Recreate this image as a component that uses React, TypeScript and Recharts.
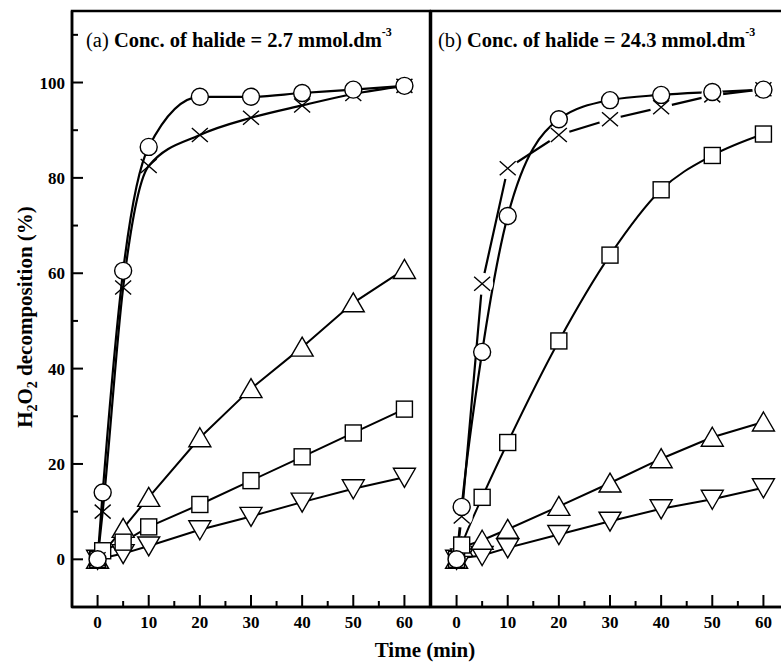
import React from "react";
import { LineChart, Line, XAxis, YAxis, ReferenceArea } from "recharts";

// time points (min)
const timesFull = [0, 1, 5, 10, 20, 30, 40, 50, 60];
const timesTri = [0, 5, 10, 20, 30, 40, 50, 60];

// panel (a): halide 2.7 mmol.dm-3
const circleA = [0, 14, 60.5, 86.5, 97, 97, 97.8, 98.5, 99.3];
const crossA = [0, 10, 57, 82.5, 89, 92.6, 95.2, 97.6, 99.3];
const squareA = [0, 1.8, 3.6, 6.8, 11.5, 16.5, 21.5, 26.5, 31.5];
const triUpA = [0, 6.5, 13, 25.5, 35.8, 44.5, 53.8, 60.8];
const triDownA = [0, 1.2, 2.8, 6.2, 9, 12, 14.8, 17.2];

// panel (b): halide 24.3 mmol.dm-3
const circleB = [0, 11, 43.5, 72, 92.3, 96.3, 97.4, 98, 98.5];
const crossB = [0, 9, 57.8, 82, 89, 92.3, 94.8, 97.3, 98.6];
const squareB = [0, 3, 13, 24.5, 45.8, 63.8, 77.5, 84.7, 89.2];
const triUpB = [0, 2.5, 4, 6.3, 11.1, 16, 21.1, 25.6, 28.8];
const triDownB = [0, 0.3, 0.8, 2.4, 5.2, 8, 10.6, 12.6, 15];

const xTicks = [0, 5, 10, 15, 20, 25, 30, 35, 40, 45, 50, 55, 60];
const yTicks = [-10, 0, 10, 20, 30, 40, 50, 60, 70, 80, 90, 100, 110];

const FONT = "'Liberation Serif', 'DejaVu Serif', serif";

const pts = (times: number[], vals: number[]) => times.map((t, i) => ({ t, v: vals[i] }));

const circleDot = (p: any) => (
  <circle key={`c${p.index}`} cx={p.cx} cy={p.cy} r={8.5} fill="#fff" stroke="#000" strokeWidth={1.4} />
);
const squareDot = (p: any) => (
  <rect key={`s${p.index}`} x={p.cx - 8} y={p.cy - 8} width={16} height={16} fill="#fff" stroke="#000" strokeWidth={1.4} />
);
const triUpDot = (p: any) => (
  <path
    key={`u${p.index}`}
    d={`M${p.cx},${p.cy - 10}L${p.cx + 11},${p.cy + 9}L${p.cx - 11},${p.cy + 9}Z`}
    fill="#fff"
    stroke="#000"
    strokeWidth={1.4}
  />
);
const triDownDot = (p: any) => (
  <path
    key={`d${p.index}`}
    d={`M${p.cx},${p.cy + 10}L${p.cx + 11},${p.cy - 9}L${p.cx - 11},${p.cy - 9}Z`}
    fill="#fff"
    stroke="#000"
    strokeWidth={1.4}
  />
);
const crossDot = (mask: boolean) => (p: any) => (
  <g key={`x${p.index}`}>
    {mask && <circle cx={p.cx} cy={p.cy} r={11} fill="#fff" />}
    <path
      d={`M${p.cx - 8},${p.cy - 7}L${p.cx + 8},${p.cy + 7}M${p.cx - 8},${p.cy + 7}L${p.cx + 8},${p.cy - 7}`}
      stroke="#000"
      strokeWidth={1.4}
      fill="none"
    />
  </g>
);

const XTick = (props: any) => {
  const { x, y, payload } = props;
  const major = payload.value % 10 === 0;
  return (
    <g>
      <line x1={x} x2={x} y1={y} y2={y - (major ? 12 : 6)} stroke="#000" strokeWidth={2} />
      {major && (
        <text x={x} y={y + 21} textAnchor="middle" fontFamily={FONT} fontWeight="bold" fontSize={17} fill="#000">
          {payload.value}
        </text>
      )}
    </g>
  );
};

const YTick = (props: any) => {
  const { x, y, payload } = props;
  const major = payload.value % 20 === 0;
  return (
    <g>
      <line x1={x} x2={x + (major ? 11 : 6)} y1={y} y2={y} stroke="#000" strokeWidth={2} />
      {major && (
        <text x={x - 7} y={y + 6} textAnchor="end" fontFamily={FONT} fontWeight="bold" fontSize={17} fill="#000">
          {payload.value}
        </text>
      )}
    </g>
  );
};

function Panel({ series, showY, width, marginLeft }: { series: any[]; showY: boolean; width: number; marginLeft: number }) {
  return (
    <LineChart width={width} height={662} margin={{ top: 11, right: 1, bottom: 0, left: marginLeft }}>
      <XAxis
        dataKey="t"
        type="number"
        domain={[-5, 65]}
        ticks={xTicks}
        interval={0}
        height={55}
        tickSize={0}
        tickMargin={0}
        tick={<XTick />}
        axisLine={{ stroke: "#000", strokeWidth: 2.5 }}
        allowDataOverflow
      />
      {showY ? (
        <YAxis
          type="number"
          domain={[-10, 115]}
          ticks={yTicks}
          interval={0}
          width={72}
          tickSize={0}
          tickMargin={0}
          tick={<YTick />}
          axisLine={{ stroke: "#000", strokeWidth: 2.5 }}
          allowDataOverflow
        />
      ) : (
        <YAxis type="number" domain={[-10, 115]} hide allowDataOverflow />
      )}
      <ReferenceArea x1={-5} x2={65} y1={-10} y2={115} fill="none" stroke="#000" strokeWidth={2.5} />
      {series.map((s) => (
        <Line
          key={s.id}
          data={s.data}
          dataKey="v"
          type={s.type}
          stroke="#000"
          strokeWidth={s.w}
          dot={s.dot}
          activeDot={false}
          isAnimationActive={false}
        />
      ))}
    </LineChart>
  );
}

const seriesA = [
  { id: "dA", data: pts(timesTri, triDownA), type: "linear", w: 2, dot: triDownDot },
  { id: "uA", data: pts(timesTri, triUpA), type: "linear", w: 2, dot: triUpDot },
  { id: "sA", data: pts(timesFull, squareA), type: "linear", w: 2, dot: squareDot },
  { id: "xA", data: pts(timesFull, crossA), type: "monotone", w: 2.2, dot: crossDot(false) },
  { id: "cA", data: pts(timesFull, circleA), type: "monotone", w: 2.2, dot: circleDot },
];

const seriesB = [
  { id: "xB", data: pts(timesFull, crossB), type: "linear", w: 2.2, dot: crossDot(true) },
  { id: "dB", data: pts(timesFull, triDownB), type: "linear", w: 2, dot: triDownDot },
  { id: "uB", data: pts(timesFull, triUpB), type: "linear", w: 2, dot: triUpDot },
  { id: "sB", data: pts(timesFull, squareB), type: "monotone", w: 2, dot: squareDot },
  { id: "cB", data: pts(timesFull, circleB), type: "monotone", w: 2.2, dot: circleDot },
];

export default function App() {
  return (
    <div
      style={{
        position: "absolute",
        left: 0,
        top: 0,
        width: 781,
        height: 662,
        overflow: "hidden",
        background: "#fff",
      }}
    >
      <div style={{ position: "absolute", left: 0, top: 0 }}>
        <Panel series={seriesA} showY width={431} marginLeft={0} />
      </div>
      <div style={{ position: "absolute", left: 429, top: 0 }}>
        <Panel series={seriesB} showY={false} width={361} marginLeft={2} />
      </div>
      <svg width={781} height={662} style={{ position: "absolute", left: 0, top: 0, pointerEvents: "none" }}>
        <text x={86} y={47} fontFamily={FONT} fontSize={20.5} fill="#000">
          <tspan>(a) </tspan>
          <tspan fontWeight="bold">Conc. of halide = 2.7 mmol.dm</tspan>
          <tspan fontWeight="bold" fontSize={12} dy={-11}>-3</tspan>
        </text>
        <text x={438} y={47} fontFamily={FONT} fontSize={20.5} fill="#000">
          <tspan>(b) </tspan>
          <tspan fontWeight="bold">Conc. of halide = 24.3 mmol.dm</tspan>
          <tspan fontWeight="bold" fontSize={12} dy={-11}>-3</tspan>
        </text>
        <text
          x={32}
          y={317}
          transform="rotate(-90 32 317)"
          textAnchor="middle"
          fontFamily={FONT}
          fontWeight="bold"
          fontSize={21}
          fill="#000"
        >
          <tspan>H</tspan>
          <tspan fontSize={14} dy={5}>2</tspan>
          <tspan dy={-5}>O</tspan>
          <tspan fontSize={14} dy={5}>2</tspan>
          <tspan dy={-5}> decomposition (%)</tspan>
        </text>
        <text x={425} y={657} textAnchor="middle" fontFamily={FONT} fontWeight="bold" fontSize={21} fill="#000">
          Time (min)
        </text>
      </svg>
    </div>
  );
}
